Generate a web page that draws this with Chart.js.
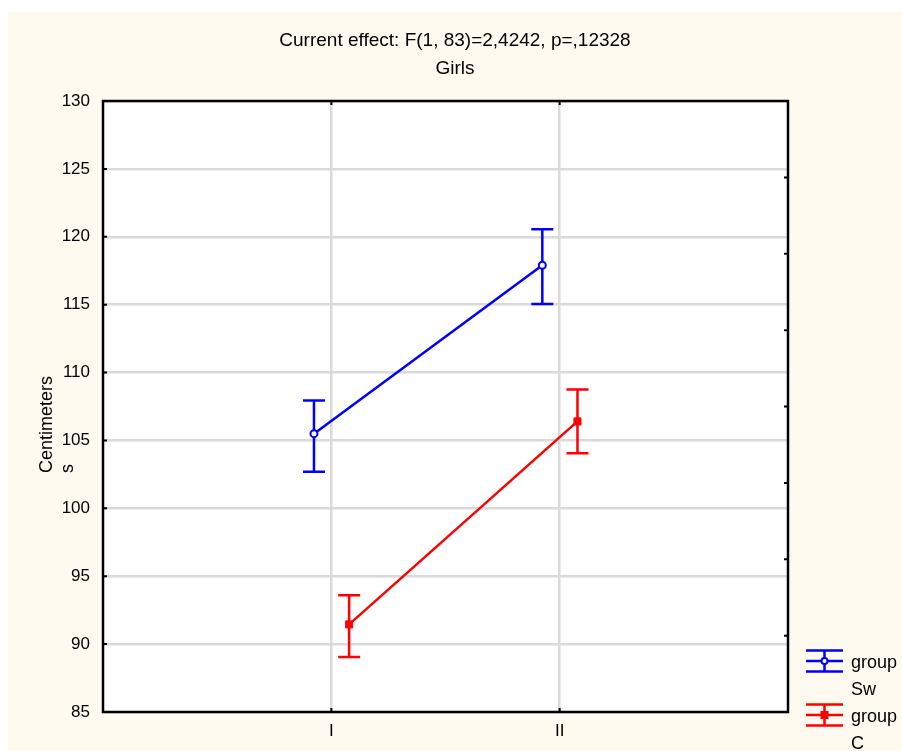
<!DOCTYPE html>
<html>
<head>
<meta charset="utf-8">
<script src="https://cdn.jsdelivr.net/npm/chart.js@4/dist/chart.umd.min.js"></script>
<style>
  html, body { margin: 0; padding: 0; background: #ffffff; }
  #frame {
    position: absolute; left: 8px; top: 12px;
    width: 894px; height: 739px;
    background: #fefaf0;
  }
</style>
</head>
<body>
<div id="frame"><canvas id="chart"></canvas></div>
<script>
// Height means (cm) with confidence limits, girls, by measurement occasion
const categories = ['I', 'II'];
const yTickValues = [85, 90, 95, 100, 105, 110, 115, 120, 125, 130];

const swMean  = [105.5, 117.9];
const swLower = [102.7, 115.05];
const swUpper = [107.95, 120.55];

const cMean  = [91.45, 106.4];
const cLower = [89.05, 104.05];
const cUpper = [93.6, 108.75];

const titleLines = ['Current effect: F(1, 83)=2,4242, p=,12328', 'Girls'];
const yTitleLines = ['Centimeters', 's'];

const FONT = '"Liberation Sans", Arial, sans-serif';
const BLUE = '#0000ff';
const RED = '#ff0000';
const GRID = '#dadada';
const LINE_W = 2.5;

// horizontal nudge so the two groups' error bars do not overlap
const swShift = -0.076;
const cShift = 0.078;

function points(means, shift) {
  return means.map((m, i) => ({ x: i + 1 + shift, y: m }));
}

// white plot area + black frame with short inward tick marks
const plotFrame = {
  id: 'plotFrame',
  beforeDraw(chart) {
    const a = chart.chartArea, ctx = chart.ctx;
    ctx.save();
    ctx.fillStyle = '#ffffff';
    ctx.fillRect(a.left, a.top, a.right - a.left, a.bottom - a.top);
    ctx.restore();
  },
  afterDraw(chart) {
    const a = chart.chartArea, ctx = chart.ctx;
    ctx.save();
    ctx.strokeStyle = '#000000';
    ctx.lineWidth = 2.5;
    ctx.strokeRect(a.left, a.top, a.right - a.left, a.bottom - a.top);
    ctx.lineWidth = 2;
    const tl = 4;
    ctx.beginPath();
    const xs = chart.scales.x;
    xs.ticks.forEach(t => {
      const px = xs.getPixelForValue(t.value);
      ctx.moveTo(px, a.bottom); ctx.lineTo(px, a.bottom - tl);
      ctx.moveTo(px, a.top); ctx.lineTo(px, a.top + tl);
    });
    const ys = chart.scales.y;
    ys.ticks.forEach(t => {
      const py = ys.getPixelForValue(t.value);
      ctx.moveTo(a.left, py); ctx.lineTo(a.left + tl, py);
    });
    const y2 = chart.scales.y2;
    y2.ticks.forEach(t => {
      const py = y2.getPixelForValue(t.value);
      ctx.moveTo(a.right, py); ctx.lineTo(a.right - tl, py);
    });
    ctx.stroke();
    ctx.restore();
  }
};

// vertical error bars with caps, drawn under the lines and markers
const errorBars = {
  id: 'errorBars',
  beforeDatasetsDraw(chart) {
    const ctx = chart.ctx, ys = chart.scales.y;
    chart.data.datasets.forEach((ds, di) => {
      const meta = chart.getDatasetMeta(di);
      ctx.save();
      ctx.strokeStyle = ds.borderColor;
      ctx.lineWidth = LINE_W;
      meta.data.forEach((pt, i) => {
        const lo = ys.getPixelForValue(ds.lower[i]);
        const hi = ys.getPixelForValue(ds.upper[i]);
        const cap = 11;
        ctx.beginPath();
        ctx.moveTo(pt.x, lo); ctx.lineTo(pt.x, hi);
        ctx.moveTo(pt.x - cap, lo); ctx.lineTo(pt.x + cap, lo);
        ctx.moveTo(pt.x - cap, hi); ctx.lineTo(pt.x + cap, hi);
        ctx.stroke();
      });
      ctx.restore();
    });
  }
};

// y axis title, two lines reading bottom-to-top, start aligned
const yTitle = {
  id: 'yTitle',
  afterDraw(chart) {
    const ctx = chart.ctx;
    ctx.save();
    ctx.fillStyle = '#000000';
    ctx.font = '18px ' + FONT;
    ctx.textAlign = 'left';
    ctx.textBaseline = 'alphabetic';
    const baseY = 461;
    const baseX = [44, 65];
    yTitleLines.forEach((line, i) => {
      ctx.save();
      ctx.translate(baseX[i], baseY);
      ctx.rotate(-Math.PI / 2);
      ctx.fillText(line, 0, 0);
      ctx.restore();
    });
    ctx.restore();
  }
};

// legend: error-bar glyph with marker, label over two lines
const sideLegend = {
  id: 'sideLegend',
  afterDraw(chart) {
    const ctx = chart.ctx;
    const left = 798, w = 37, gap = 10.5;
    const firstCenter = 649, entryStep = 54, lineStep = 27;
    ctx.save();
    chart.data.datasets.forEach((ds, di) => {
      const cy = firstCenter + di * entryStep;
      const cx = left + w / 2;
      ctx.strokeStyle = ds.borderColor;
      ctx.lineWidth = LINE_W;
      ctx.beginPath();
      [-gap, 0, gap].forEach(d => { ctx.moveTo(left, cy + d); ctx.lineTo(left + w, cy + d); });
      ctx.moveTo(cx, cy - gap); ctx.lineTo(cx, cy + gap);
      ctx.stroke();
      if (ds.pointStyle === 'rect') {
        ctx.fillStyle = ds.borderColor;
        ctx.fillRect(cx - 4, cy - 4, 8, 8);
      } else {
        ctx.fillStyle = '#ffffff';
        ctx.beginPath();
        ctx.arc(cx, cy, 3, 0, Math.PI * 2);
        ctx.fill();
        ctx.lineWidth = 2;
        ctx.stroke();
      }
      ctx.fillStyle = '#000000';
      ctx.font = '18px ' + FONT;
      ctx.textAlign = 'left';
      ctx.textBaseline = 'alphabetic';
      ds.label.forEach((line, li) => {
        ctx.fillText(line, 843, cy + 7 + li * lineStep);
      });
    });
    ctx.restore();
  }
};

new Chart(document.getElementById('chart'), {
  type: 'line',
  data: {
    datasets: [
      {
        label: ['group', 'Sw'],
        data: points(swMean, swShift),
        lower: swLower,
        upper: swUpper,
        borderColor: BLUE,
        backgroundColor: '#ffffff',
        borderWidth: LINE_W,
        pointStyle: 'circle',
        pointRadius: 3.5,
        pointBorderWidth: 2,
        pointBackgroundColor: '#ffffff',
        tension: 0
      },
      {
        label: ['group', 'C'],
        data: points(cMean, cShift),
        lower: cLower,
        upper: cUpper,
        borderColor: RED,
        backgroundColor: RED,
        borderWidth: LINE_W,
        pointStyle: 'rect',
        pointRadius: 5,
        pointBorderWidth: 1,
        pointBackgroundColor: RED,
        tension: 0
      }
    ]
  },
  options: {
    responsive: true,
    maintainAspectRatio: false,
    animation: false,
    layout: { padding: 0 },
    plugins: {
      legend: { display: false },
      tooltip: { enabled: false },
      title: {
        display: true,
        text: titleLines,
        color: '#000000',
        font: { family: FONT, size: 19, weight: 'normal', lineHeight: 28 / 19 },
        padding: { top: 15, bottom: 18 }
      }
    },
    scales: {
      x: {
        type: 'linear',
        min: 0,
        max: 3,
        afterBuildTicks(scale) {
          scale.ticks = categories.map((c, i) => ({ value: i + 1 }));
        },
        afterFit(scale) { scale.height = 39; },
        ticks: {
          color: '#000000',
          font: { family: FONT, size: 17 },
          padding: 9,
          maxRotation: 0,
          callback: (v) => categories[Math.round(v) - 1]
        },
        grid: { color: GRID, lineWidth: 2.5, drawTicks: false },
        border: { display: false }
      },
      y: {
        type: 'linear',
        position: 'left',
        min: 85,
        max: 130,
        afterBuildTicks(scale) {
          scale.ticks = yTickValues.map(v => ({ value: v }));
        },
        afterFit(scale) { scale.width = 95; },
        ticks: {
          color: '#000000',
          font: { family: FONT, size: 17 },
          padding: 13,
          callback: (v) => String(v)
        },
        grid: { color: GRID, lineWidth: 2.5, drawTicks: false },
        border: { display: false }
      },
      y2: {
        type: 'linear',
        position: 'right',
        min: 0,
        max: 8,
        ticks: { display: false, stepSize: 1 },
        afterFit(scale) { scale.width = 114; },
        grid: { display: false, drawOnChartArea: false, drawTicks: false },
        border: { display: false }
      }
    }
  },
  plugins: [plotFrame, errorBars, yTitle, sideLegend]
});
</script>
</body>
</html>
